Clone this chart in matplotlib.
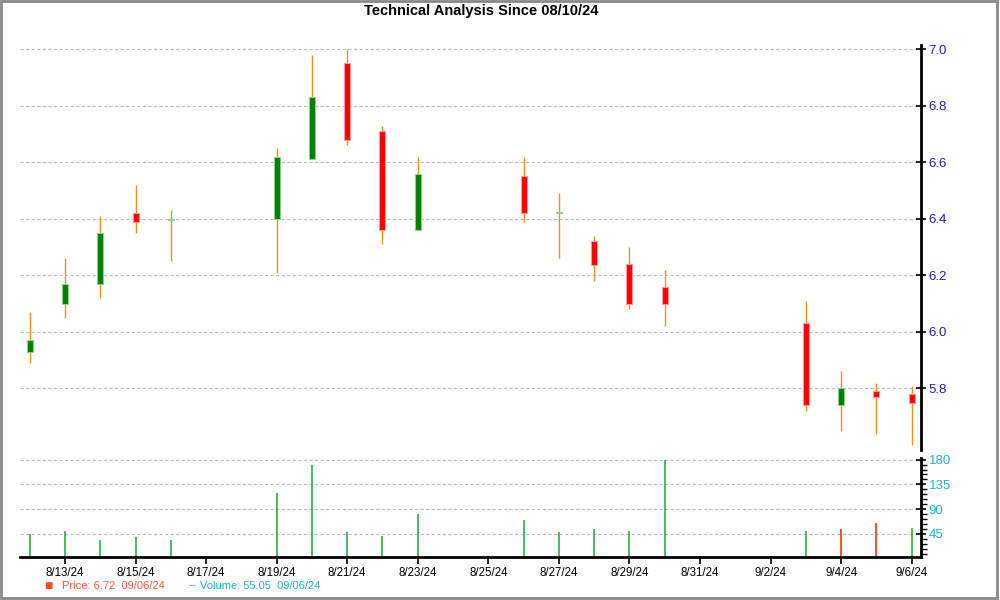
import matplotlib
matplotlib.use("Agg")
import matplotlib.pyplot as plt
import matplotlib.dates as mdates
from matplotlib.ticker import MultipleLocator, FixedLocator, FuncFormatter
from matplotlib.patches import Rectangle
import pandas as pd

plt.rcParams['font.family'] = ['Liberation Sans', 'DejaVu Sans']

# daily data
dates = pd.to_datetime(['2024-08-12', '2024-08-13', '2024-08-14', '2024-08-15', '2024-08-16',
                        '2024-08-19', '2024-08-20', '2024-08-21', '2024-08-22', '2024-08-23',
                        '2024-08-26', '2024-08-27', '2024-08-28', '2024-08-29', '2024-08-30',
                        '2024-09-03', '2024-09-04', '2024-09-05', '2024-09-06'])
opens = [5.93, 6.10, 6.17, 6.42, 6.395, 6.40, 6.61, 6.95, 6.71, 6.36,
         6.55, 6.42, 6.32, 6.24, 6.16, 6.03, 5.74, 5.79, 5.78]
closes = [5.97, 6.17, 6.35, 6.39, 6.40, 6.62, 6.83, 6.68, 6.36, 6.56,
          6.42, 6.425, 6.235, 6.10, 6.10, 5.74, 5.80, 5.77, 5.75]
highs = [6.07, 6.26, 6.41, 6.52, 6.43, 6.65, 6.98, 7.00, 6.73, 6.62,
         6.62, 6.49, 6.34, 6.30, 6.22, 6.11, 5.86, 5.82, 5.81]
lows = [5.89, 6.05, 6.12, 6.35, 6.25, 6.21, 6.61, 6.66, 6.31, 6.36,
        6.39, 6.26, 6.18, 6.08, 6.02, 5.72, 5.65, 5.64, 5.60]
volumes = [44, 51, 33, 40, 33, 120, 171, 49, 42, 82,
           71, 49, 53, 51, 180, 51, 53, 64, 55]
vol_up = [True, True, True, True, True, True, True, True, True, True,
          True, True, True, True, True, True, False, False, True]

price_ticks = [5.8, 6.0, 6.2, 6.4, 6.6, 6.8, 7.0]
volume_ticks = [45, 90, 135, 180]

title = "Technical Analysis Since 08/10/24"
price_label = "Price: 6.72  09/06/24"
volume_label = "Volume: 55.05  09/06/24"

x = mdates.date2num(dates)

fig = plt.figure(figsize=(10, 6), dpi=100)
ax = fig.add_axes([0.02, 0.25, 0.901, 0.675])
axv = fig.add_axes([0.02, 0.0717, 0.901, 0.165], sharex=ax)

# candles
for xi, o, c, h, l in zip(x, opens, closes, highs, lows):
    ax.vlines(xi, l, h, color='#f0921e', lw=1, zorder=2)
    up = c >= o
    body = max(abs(c - o), 0.004)
    ax.bar(xi, body, bottom=min(o, c), width=0.17,
           color='#008000' if up else '#ff0000',
           edgecolor='#8fd08f' if up else '#ff9a9a', lw=0.8, zorder=3)

ax.set_ylim(5.582, 7.015)
ax.yaxis.set_major_locator(FixedLocator(price_ticks))
ax.yaxis.set_major_formatter(FuncFormatter(lambda v, p: f"{v:.1f}"))
ax.yaxis.tick_right()
ax.tick_params(axis='y', colors='black', labelcolor='#2222aa', labelsize=9.5,
               direction='inout', length=7, width=1.2, pad=2)
ax.tick_params(axis='x', bottom=False, labelbottom=False)
ax.grid(axis='y', color='#bbbbbb', ls=(0, (3, 2)), lw=0.8)
for s in ['left', 'top', 'bottom']:
    ax.spines[s].set_visible(False)
ax.spines['right'].set_linewidth(2)

# volume
vcol = ['#1aa83a' if u else '#ff1a00' for u in vol_up]
axv.vlines(x, 0, volumes, colors=vcol, lw=1.1, zorder=2)
axv.set_ylim(3, 183)
axv.yaxis.set_major_locator(FixedLocator(volume_ticks))
axv.yaxis.set_minor_locator(MultipleLocator(9))
axv.yaxis.tick_right()
axv.tick_params(axis='y', which='major', colors='black', labelcolor='#1cb4c4',
                labelsize=9.5, direction='inout', length=7, width=1.2, pad=2)
axv.tick_params(axis='y', which='minor', direction='out', length=4, width=1)
axv.grid(axis='y', color='#bbbbbb', ls=(0, (3, 2)), lw=0.8)
for s in ['left', 'top']:
    axv.spines[s].set_visible(False)
axv.spines['right'].set_linewidth(2)
axv.spines['bottom'].set_linewidth(2)

axv.set_xlim(mdates.date2num(pd.Timestamp('2024-08-13')) - 1.275,
             mdates.date2num(pd.Timestamp('2024-09-06')) + 0.264)
ticks = pd.date_range('2024-08-13', '2024-09-06', freq='2D')
axv.set_xticks(mdates.date2num(ticks))
axv.xaxis.set_major_formatter(FuncFormatter(
    lambda v, p: (lambda d: f"{d.month}/{d.day}/{d:%y}")(mdates.num2date(v))))
axv.tick_params(axis='x', direction='out', length=5, width=1.2, labelsize=8.3, pad=2)

fig.text(0.481, 0.982, title, ha='center', va='center', fontsize=10.5, fontweight='bold')

fig.text(0.048, 0.024, "\u25A0", color='#ff4a1a', fontsize=10, ha='center', va='center')
fig.text(0.062, 0.024, price_label, color='#ff5a3c', fontsize=8, va='center')
fig.text(0.192, 0.024, "\u2013", color='#1cb4c4', fontsize=8, ha='center', va='center')
fig.text(0.200, 0.024, volume_label, color='#1cb4c4', fontsize=8, va='center')

fig.patches.append(Rectangle((0.001, 0.003), 0.996, 0.996, transform=fig.transFigure,
                             fill=False, edgecolor='#888888', lw=2))

fig.savefig('out.png', dpi=100)
